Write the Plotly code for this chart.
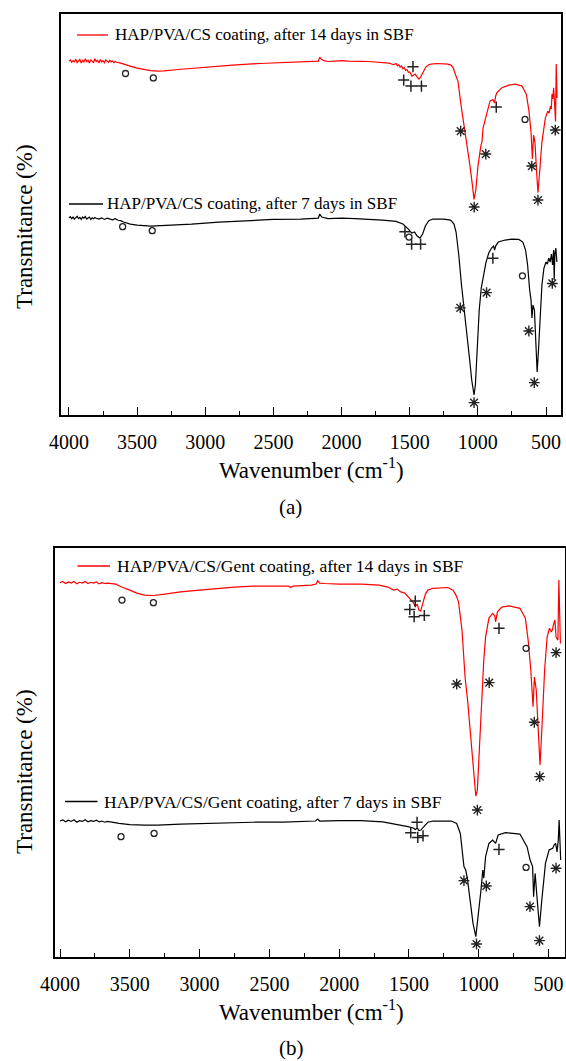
import plotly.graph_objects as go

W, H = 566, 1061

# ---------------- Panel (a) data ----------------
RED_A_WN = [4000,3990,3980,3970,3960,3950,3940,3930,3920,3910,3900,3890,3880,3870,3860,3850,3840,3830,3820,3810,
            3800,3790,3780,3770,3760,3750,3740,3730,3720,3710,3700,3690,3680,3670,3660,3650,
            3620,3600,3580,3550,3500,3450,3400,3350,3300,3200,3000,2800,2600,2400,2250,2200,2170,2160,2150,2130,
            2100,2050,2000,1950,1900,1850,1800,1750,1700,1650,1620,1600,1590,1580,1570,1560,1550,1540,1530,1520,
            1510,1500,1483,1470,1460,1445,1432,1420,1410,1395,1382,1360,1344,1300,1250,1220,1197,1180,1168,1146,
            1124,1102,1095,1080,1058,1040,1028,1015,999,977,970,962,945,933,911,889,877,870,860,823,
            773,723,676,644,625,610,600,591,581,569,559,549,530,505,495,487,477,467,461,456,
            450,444,438,434,430,425,419]
RED_A_T = [88.5,88.8,88.2,88.6,88.3,89.0,88.1,88.6,88.9,88.0,88.7,88.3,89.1,88.4,88.7,88.0,88.8,88.5,88.1,89.1,
           88.4,88.7,88.0,88.9,88.3,88.6,88.1,88.8,88.4,88.2,88.7,88.3,88.5,88.1,88.4,88.2,
           88.0,87.75,87.5,87.25,86.75,86.4,86.1,86.0,86.05,86.4,87.0,87.5,87.9,88.1,88.25,88.3,88.5,89.5,89.0,88.6,
           88.4,88.5,88.6,88.5,88.55,88.45,88.4,88.3,88.1,88.0,87.6,87.9,87.3,87.6,87.0,87.3,86.6,86.9,86.2,86.4,
           85.7,85.8,84.75,85.0,85.25,84.5,84.0,84.5,85.25,86.25,87.0,87.6,87.75,87.9,87.9,87.75,87.5,86.75,85.5,83.5,
           77.6,72.5,71.75,67.5,62.35,57.5,53.9,56.25,62.35,67.5,68.25,71.75,74.25,76.0,78.5,78.9,78.0,79.75,80.6,81.85,
           82.5,82.75,82.25,80.15,76.0,70.8,64.05,70.0,68.25,60.75,55.6,59.8,68.25,74.25,75.0,76.0,75.5,77.25,76.5,80.25,
           79.0,81.85,78.5,76.0,73.4,87.75,79.25]

BLK_A_WN = [4000,3990,3980,3970,3960,3950,3940,3930,3920,3910,3900,3890,3880,3870,3860,3850,3840,3830,3820,3810,
            3800,3780,3760,3740,3720,3700,3680,3660,3640,3620,3600,3550,3500,3400,3300,3100,2900,2700,2500,2300,
            2170,2160,2145,2100,2000,1900,1800,1700,1600,1550,1510,1485,1465,1445,1425,1405,1385,1360,1330,1250,
            1200,1175,1160,1140,1120,1100,1090,1075,1060,1045,1035,1028,1018,1005,990,975,965,955,940,920,
            900,885,877,870,850,800,750,700,670,650,635,620,610,603,596,585,575,565,555,545,
            530,515,500,490,480,470,460,452,444,440,435,428,420]
BLK_A_T = [49.3,49.6,49.1,49.5,49.0,49.4,49.7,49.1,49.4,48.9,49.5,49.2,49.6,49.0,49.3,49.5,48.9,49.3,49.1,49.4,
           49.2,49.0,49.3,48.9,49.2,49.0,48.8,49.1,48.7,48.6,48.25,47.75,47.5,47.25,47.4,47.75,48.25,48.6,48.9,49.0,
           49.25,50.25,49.5,49.1,49.25,49.1,49.0,48.75,48.4,47.75,46.5,45.5,45.75,44.75,44.25,45.25,47.25,48.6,49.0,49.0,
           48.75,47.75,45.75,40.0,32.5,26.25,24.25,20.0,13.75,8.75,5.75,5.0,7.5,16.25,26.25,31.75,33.75,35.75,38.25,40.5,
           41.75,42.25,41.25,42.25,43.25,43.75,44.0,43.9,43.25,41.25,37.5,31.25,28.75,24.25,27.5,26.25,18.75,10.75,16.25,23.75,
           32.5,36.75,38.25,37.75,39.25,38.25,40.25,37.5,41.25,33.75,40.25,41.75,38.25]

# ---------------- Panel (b) data ----------------
RED_B_WN = [4000,3980,3960,3940,3920,3900,3880,3860,3840,3820,3800,3780,3760,3740,3720,3700,3680,3660,
            3600,3563,3500,3450,3395,3330,3250,3137,3000,2878,2750,2619,2450,2361,2350,2330,2200,2165,2154,2140,
            2102,2000,1843,1714,1650,1610,1585,1559,1530,1507,1485,1468,1455,1441,1429,1416,1398,1382,1365,1327,
            1222,1184,1160,1145,1120,1098,1080,1067,1041,1021,1010,991,975,971,964,951,927,900,885,879,
            870,866,835,783,705,666,646,627,611,601,588,574,561,548,528,510,493,480,473,460,
            454,446,433,426,420,415]
RED_B_T = [93.6,93.9,93.4,93.8,93.5,93.9,93.3,93.7,93.5,93.9,93.4,93.7,93.5,93.8,93.3,93.6,93.4,93.5,
           93.25,92.6,91.75,91.0,90.5,90.4,90.75,91.3,91.75,92.2,92.5,92.75,92.75,92.75,92.4,92.75,93.0,93.25,94.1,93.5,
           93.4,93.25,93.25,93.0,92.5,91.75,92.0,91.3,91.0,90.1,89.25,88.6,87.6,88.25,86.75,86.5,88.8,90.75,91.75,92.2,
           92.4,91.75,90.25,88.8,81.75,70.0,64.25,58.5,46.75,40.25,41.75,56.75,69.25,71.75,74.25,80.0,84.75,85.9,85.25,83.8,
           85.75,86.3,87.5,87.8,87.2,84.7,79.25,71.75,62.6,70.0,66.75,56.75,48.0,56.75,71.75,80.0,82.2,81.25,81.75,83.75,
           84.25,80.0,79.25,94.25,81.75,78.4]

BLK_B_WN = [4000,3980,3960,3940,3920,3900,3880,3860,3840,3820,3800,3780,3760,3740,3720,3700,3680,3660,
            3577,3500,3395,3300,3137,2900,2619,2400,2170,2154,2140,2000,1843,1688,1585,1507,1470,1455,1440,1429,
            1415,1403,1385,1365,1327,1197,1158,1132,1106,1093,1080,1067,1041,1021,1003,984,971,964,951,927,
            900,879,861,809,705,654,632,614,607,596,581,565,548,522,496,470,460,449,439,430,
            424,413]
BLK_B_T = [34.0,34.3,33.8,34.2,33.9,34.3,33.7,34.1,33.9,34.3,33.8,34.1,33.9,34.2,33.8,34.0,33.7,33.9,
           33.4,33.1,33.0,33.0,33.25,33.5,33.7,33.75,34.0,34.5,34.0,34.1,34.1,33.8,33.2,32.6,32.25,31.9,32.25,31.6,
           31.75,32.2,33.0,33.7,34.0,34.0,33.4,30.9,22.6,21.75,19.25,15.1,8.4,5.1,10.1,16.75,21.75,19.7,25.1,28.4,
           29.25,28.4,30.5,31.1,30.75,27.6,24.25,22.6,15.1,20.9,14.25,7.6,14.25,23.4,26.75,27.2,28.0,28.4,26.3,29.25,
           34.25,24.25]

# ---------------- band markers (symbol, wavenumber, T) ----------------
MK_A_RED = [("o",3585,85.4),("o",3381,84.3),("+",1476,87.1),("+",1544,83.75),("+",1491,82.25),("+",1414,82.25),
            ("+",865,77.0),("*",1126,71.0),("*",942,65.25),("*",1027,52.0),("o",654,73.9),("*",604,62.25),
            ("*",559,53.75),("*",432,71.25)]
MK_A_BLK = [("o",3606,47.1),("o",3389,46.1),("+",1535,45.8),("o",1505,44.5),("+",1486,42.7),("+",1420,42.7),
            ("+",890,39.2),("o",673,34.8),("*",454,32.9),("*",936,30.6),("*",1129,26.8),("*",626,21.0),
            ("*",586,8.1),("*",1028,3.1)]
MK_B_RED = [("o",3556,89.25),("o",3331,88.6),("+",1455,89.0),("+",1494,86.9),("+",1463,85.1),("+",1390,85.4),
            ("+",855,82.2),("*",1158,68.25),("*",925,68.6),("o",661,77.2),("*",602,58.7),("*",563,45.1),
            ("*",446,76.1),("*",1010,36.75)]
MK_B_BLK = [("o",3563,30.1),("o",3326,30.9),("+",1442,33.7),("+",1487,31.1),("+",1437,29.9),("+",1399,30.3),
            ("+",855,26.9),("*",1106,19.1),("*",946,17.75),("*",1016,3.25),("o",661,22.4),("*",633,12.6),
            ("*",565,4.1),("*",446,22.2)]

LEG_A_RED = "HAP/PVA/CS coating, after 14 days in SBF"
LEG_A_BLK = "HAP/PVA/CS coating, after 7 days in SBF"
LEG_B_RED = "HAP/PVA/CS/Gent coating, after 14 days in SBF"
LEG_B_BLK = "HAP/PVA/CS/Gent coating, after 7 days in SBF"

TICK_VALS = [4000, 3500, 3000, 2500, 2000, 1500, 1000, 500]

assert len(RED_A_WN) == len(RED_A_T)
assert len(BLK_A_WN) == len(BLK_A_T)
assert len(RED_B_WN) == len(RED_B_T)
assert len(BLK_B_WN) == len(BLK_B_T)

SERIF = "Liberation Serif, Times New Roman, serif"
RED = "#ff0000"


def px(x):
    return x / W


def py(y):
    return 1 - y / H


fig = go.Figure()

for wn, t, col, xa, ya in [(RED_A_WN, RED_A_T, RED, "x", "y"), (BLK_A_WN, BLK_A_T, "#000000", "x", "y"),
                           (RED_B_WN, RED_B_T, RED, "x2", "y2"), (BLK_B_WN, BLK_B_T, "#000000", "x2", "y2")]:
    fig.add_trace(go.Scatter(x=wn, y=t, mode="lines", line=dict(color=col, width=1.2),
                             xaxis=xa, yaxis=ya, showlegend=False, hoverinfo="skip"))

SYM = {"o": ("circle-open", 6, 1.3), "+": ("cross-thin-open", 8, 1.5), "*": ("asterisk-open", 9, 1.4)}
for mk, xa, ya in [(MK_A_RED, "x", "y"), (MK_A_BLK, "x", "y"), (MK_B_RED, "x2", "y2"), (MK_B_BLK, "x2", "y2")]:
    for s in SYM:
        pts = [m for m in mk if m[0] == s]
        sym, size, lw = SYM[s]
        fig.add_trace(go.Scatter(x=[p[1] for p in pts], y=[p[2] for p in pts], mode="markers",
                                 marker=dict(symbol=sym, size=size, color="#222222", line=dict(width=lw, color="#222222")),
                                 xaxis=xa, yaxis=ya, showlegend=False, hoverinfo="skip"))

xcommon = dict(showline=True, mirror=True, linecolor="black", linewidth=1.5, ticks="inside", ticklen=8,
               tickwidth=1.3, tickcolor="black", tickvals=TICK_VALS, showgrid=False, zeroline=False,
               automargin=False, tickfont=dict(family=SERIF, size=20, color="black"),
               minor=dict(ticks="inside", ticklen=4, tickwidth=1.2, tickcolor="black", dtick=250, tick0=0, showgrid=False))
ycommon = dict(showline=True, mirror=True, linecolor="black", linewidth=1.5, ticks="", showticklabels=False,
               showgrid=False, zeroline=False, automargin=False)

fig.update_layout(
    template="none",
    width=W, height=H, margin=dict(l=0, r=0, t=0, b=0, pad=0, autoexpand=False),
    paper_bgcolor="white", plot_bgcolor="white",
    font=dict(family=SERIF, color="black"),
    xaxis=dict(domain=[px(60.5), px(561)], anchor="y", range=[4062, 390], ticklabelstandoff=8, **xcommon),
    yaxis=dict(domain=[py(415), py(13.5)], anchor="x", range=[0, 100.4], **ycommon),
    xaxis2=dict(domain=[px(55), px(565)], anchor="y2", range=[4036, 382], ticklabelstandoff=8, **xcommon),
    yaxis2=dict(domain=[py(957), py(547.5)], anchor="x2", range=[0, 102.4], **ycommon),
)

ann = []
shapes = []
# legends
for (x0, x1, yy, tx, txt, col, fs) in [(77, 108, 35, 113, LEG_A_RED, RED, 17),
                                       (69, 103, 204, 104.5, LEG_A_BLK, "black", 17),
                                       (77.5, 110, 566, 114.5, LEG_B_RED, RED, 17.5),
                                       (65, 97.5, 801.5, 101.5, LEG_B_BLK, "black", 17.5)]:
    shapes.append(dict(type="line", xref="paper", yref="paper", x0=px(x0), x1=px(x1), y0=py(yy), y1=py(yy),
                       line=dict(color=col, width=1.3)))
    ann.append(dict(xref="paper", yref="paper", x=px(tx), y=py(yy), xanchor="left", yanchor="middle",
                    text=txt, showarrow=False, font=dict(family=SERIF, size=fs, color="black")))

# axis titles & captions
for (xx, yy, txt, fs, ang) in [(311, 468, "Wavenumber (cm<sup>-1</sup>)", 23, 0),
                               (311, 1010, "Wavenumber (cm<sup>-1</sup>)", 23, 0),
                               (290, 507, "(a)", 21, 0),
                               (291, 1048, "(b)", 21, 0),
                               (24, 227, "Transmitance (%)", 23, -90),
                               (24, 772, "Transmitance (%)", 23, -90)]:
    ann.append(dict(xref="paper", yref="paper", x=px(xx), y=py(yy), xanchor="center", yanchor="middle",
                    text=txt, showarrow=False, textangle=ang, font=dict(family=SERIF, size=fs, color="black")))

fig.update_layout(annotations=ann, shapes=shapes)
fig.write_html("out.html", config={"displayModeBar": False},
               post_script="document.body.style.margin='0';document.body.style.padding='0';document.body.style.overflow='hidden';document.documentElement.style.overflow='hidden';")
